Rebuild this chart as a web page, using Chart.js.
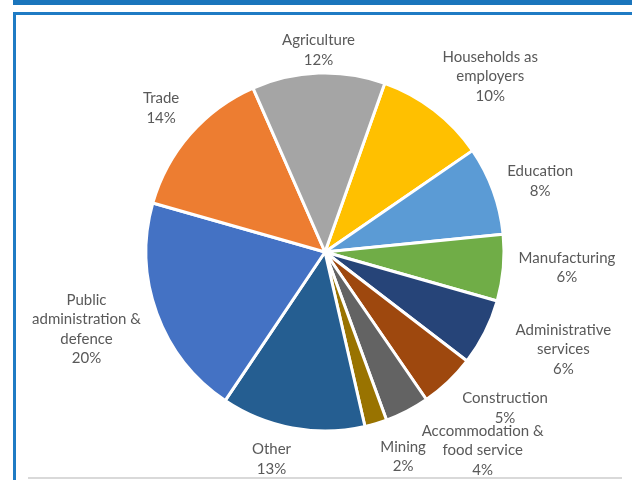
<!DOCTYPE html>
<html>
<head>
<meta charset="utf-8">
<script src="https://cdn.jsdelivr.net/npm/chart.js@4/dist/chart.umd.min.js"></script>
<style>
  html, body { margin: 0; padding: 0; background: #ffffff; }
  #wrap { position: relative; width: 632px; height: 480px; overflow: hidden; }
  .topbar { position: absolute; left: 13px; top: 0; width: 619px; height: 5px; background: #1a75bc; }
  .frameTop { position: absolute; left: 13px; top: 12px; width: 619px; height: 3px; background: #1f7bc4; }
  .frameLeft { position: absolute; left: 13px; top: 12px; width: 3px; height: 468px; background: #1f7bc4; }
  .bottomLine { position: absolute; left: 28px; top: 477px; width: 594px; height: 2px; background: #d9d9d9; }
  canvas { position: absolute; left: 0; top: 0; }
</style>
</head>
<body>
<div id="wrap">
  <div class="topbar"></div>
  <div class="frameTop"></div>
  <div class="frameLeft"></div>
  <div class="bottomLine"></div>
  <canvas id="c" width="632" height="480"></canvas>
</div>
<script>
// Employment share by sector (percent)
const sectors = [
  'Households as employers', 'Education', 'Manufacturing', 'Administrative services',
  'Construction', 'Accommodation & food service', 'Mining', 'Other',
  'Public administration & defence', 'Trade', 'Agriculture'
];
const shares = [10, 8, 6, 6, 5, 4, 2, 13, 20, 14, 12];
// Multi-line label text for each sector
const labelLines = [
  ['Households as', 'employers'],
  ['Education'],
  ['Manufacturing'],
  ['Administrative', 'services'],
  ['Construction'],
  ['Accommodation &', 'food service'],
  ['Mining'],
  ['Other'],
  ['Public', 'administration &', 'defence'],
  ['Trade'],
  ['Agriculture']
];
const sliceColors = [
  '#FFC000', '#5B9BD5', '#70AD47', '#264478', '#9E480E', '#636363',
  '#997300', '#255E91', '#4472C4', '#ED7D31', '#A5A5A5'
];
// Small label nudges (dx, dy) so crowded labels sit clear of each other
const labelNudge = [
  [22, 11], [8, 5], [10, -5], [25, -10], [24, -8], [49, -12],
  [19, 5], [-16, 5], [-6, -8], [-6, -6], [1, 2]
];

const FONT = '15px Lato, "Open Sans", sans-serif';
const LINE_H = 19.5;

const outsideLabels = {
  id: 'outsideLabels',
  afterDatasetsDraw(chart) {
    const ctx = chart.ctx;
    const meta = chart.getDatasetMeta(0);
    ctx.save();
    ctx.font = FONT;
    ctx.fillStyle = '#595959';
    ctx.textAlign = 'center';
    ctx.textBaseline = 'middle';
    meta.data.forEach((arc, i) => {
      const lines = labelLines[i].concat([shares[i] + '%']);
      const w = Math.max(...lines.map(l => ctx.measureText(l).width));
      const h = lines.length * LINE_H;
      const mid = (arc.startAngle + arc.endAngle) / 2;
      const cx = Math.cos(mid), cy = Math.sin(mid);
      const d = arc.outerRadius + 4 + Math.abs(cx) * w / 2 + Math.abs(cy) * h / 2;
      const x = arc.x + cx * d + labelNudge[i][0];
      const y = arc.y + cy * d + labelNudge[i][1];
      lines.forEach((l, k) => {
        ctx.fillText(l, x, y - h / 2 + LINE_H * (k + 0.5));
      });
    });
    ctx.restore();
  }
};

new Chart(document.getElementById('c'), {
  type: 'pie',
  data: {
    labels: sectors,
    datasets: [{
      data: shares,
      backgroundColor: sliceColors,
      borderColor: '#ffffff',
      borderWidth: 3,
      radius: 179
    }]
  },
  options: {
    responsive: false,
    animation: false,
    rotation: 19.5,
    layout: { padding: { left: 30, right: 12, top: 36, bottom: 12 } },
    plugins: {
      legend: { display: false },
      tooltip: { enabled: false }
    }
  },
  plugins: [outsideLabels]
});
</script>
</body>
</html>
